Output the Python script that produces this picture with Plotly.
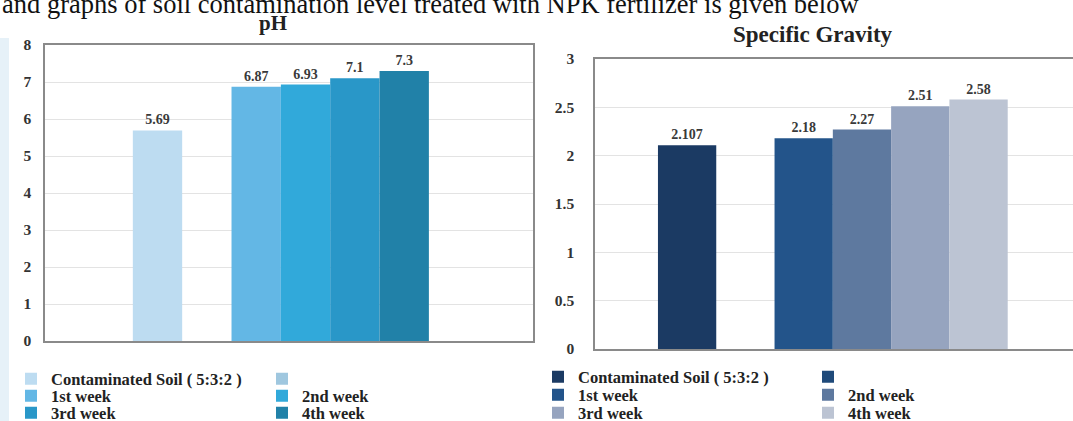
import plotly.graph_objects as go

W, H = 1073, 421

series_names = ["Contaminated Soil ( 5:3:2 )", " ", "1st week", "2nd week", "3rd week", "4th week"]
ph_values = [5.69, None, 6.87, 6.93, 7.1, 7.3]
ph_labels = ["5.69", "", "6.87", "6.93", "7.1", "7.3"]
sg_values = [2.107, None, 2.18, 2.27, 2.51, 2.58]
sg_labels = ["2.107", "", "2.18", "2.27", "2.51", "2.58"]

ph_colors = ["#bddcf1", "#9fc7df", "#63b7e5", "#31a9da", "#2997c8", "#2181a8"]
sg_colors = ["#1b3a63", "#1f4a7a", "#23548a", "#5e799f", "#96a4bf", "#bcc4d3"]

SERIF = "'Liberation Serif', 'Times New Roman', Times, 'DejaVu Serif', serif"


def px_x(p):
    return p / W


def px_y(p):
    return 1 - p / H


fig = go.Figure()

label_font = dict(family=SERIF, size=14, color="#3a3a3a", weight="bold")
leg_font = dict(family=SERIF, size=16.5, color="#222222", weight="bold")

# legend entry positions (pixel x of legend box, pixel y of row centre)
ph_leg_pos = [(11, 379), (262, 379), (11, 396), (262, 396), (11, 413), (262, 413)]
sg_leg_pos = [(538, 377), (808, 377), (538, 395), (808, 395), (538, 413), (808, 413)]

legends = {}
n = 0
for chart, values, labels, colors, xa, ya, cat, pos in [
    ("ph", ph_values, ph_labels, ph_colors, "x", "y", "pH", ph_leg_pos),
    ("sg", sg_values, sg_labels, sg_colors, "x2", "y2", "SG", sg_leg_pos),
]:
    for i, name in enumerate(series_names):
        n += 1
        lid = "legend" if n == 1 else f"legend{n}"
        legends[lid] = dict(
            x=px_x(pos[i][0]), y=px_y(pos[i][1]), xref="container", yref="container",
            xanchor="left", yanchor="middle", orientation="v", font=leg_font,
            bgcolor="rgba(0,0,0,0)", itemwidth=30, tracegroupgap=0,
        )
        fig.add_trace(go.Bar(
            x=[cat], y=[values[i]], name=name,
            marker=dict(color=colors[i], line=dict(width=0)),
            text=[labels[i]], textposition="outside", cliponaxis=False,
            textfont=label_font,
            xaxis=xa, yaxis=ya, legend=lid, offsetgroup=str(i),
        ))

axis_line = "#8a8a8a"
grid = "#e3e3e3"
tickfont = dict(family=SERIF, size=15.5, color="#333333", weight="bold")

fig.update_layout(
    width=W, height=H,
    margin=dict(l=0, r=0, t=0, b=0, autoexpand=False),
    paper_bgcolor="white", plot_bgcolor="white",
    barmode="group", bargap=0.4, bargroupgap=0,
    showlegend=True,
    xaxis=dict(domain=[px_x(45), px_x(533)], anchor="y", showticklabels=False,
               range=[-0.478, 0.511], showline=True, linecolor=axis_line,
               linewidth=1.5, mirror=True, showgrid=False, zeroline=False,
               automargin=False),
    yaxis=dict(domain=[px_y(341), px_y(45)], anchor="x", range=[0, 8], dtick=1,
               showline=True, linecolor=axis_line, linewidth=1.5, mirror=True,
               gridcolor=grid, gridwidth=1, zeroline=False, tickfont=tickfont,
               ticks="", ticklabelstandoff=9, automargin=False),
    xaxis2=dict(domain=[px_x(595), 1.0], anchor="y2", showticklabels=False,
                range=[-0.408, 0.412], showline=True, linecolor=axis_line,
                linewidth=1.5, mirror=True, showgrid=False, zeroline=False,
                automargin=False),
    yaxis2=dict(domain=[px_y(349), px_y(59)], anchor="x2", range=[0, 3], dtick=0.5,
                showline=True, linecolor=axis_line, linewidth=1.5, mirror=False,
                gridcolor=grid, gridwidth=1, zeroline=False, tickfont=tickfont,
                ticks="", ticklabelstandoff=16, automargin=False),
    annotations=[
        dict(text="pH", x=px_x(273), y=px_y(23), xref="paper", yref="paper",
             showarrow=False, xanchor="center", yanchor="middle",
             font=dict(family=SERIF, size=21, color="#222222", weight="bold")),
        dict(text="Specific Gravity", x=px_x(813), y=px_y(34), xref="paper", yref="paper",
             showarrow=False, xanchor="center", yanchor="middle",
             font=dict(family=SERIF, size=23, color="#222222", weight="bold")),
        dict(text="and graphs of soil contamination level treated with NPK fertilizer is given below",
             x=0, y=px_y(4), xref="paper", yref="paper", showarrow=False,
             xanchor="left", yanchor="middle",
             font=dict(family=SERIF, size=26.5, color="#111111")),
    ],
    shapes=[
        dict(type="rect", xref="paper", yref="paper", x0=0, x1=px_x(9),
             y0=0, y1=px_y(38), fillcolor="#e6f1f8", line=dict(width=0), layer="below"),
    ],
)
fig.update_layout(**legends)

fig.write_html("out.html", config={"displayModeBar": False},
               post_script="document.body.style.margin='0';document.body.style.padding='0';")
